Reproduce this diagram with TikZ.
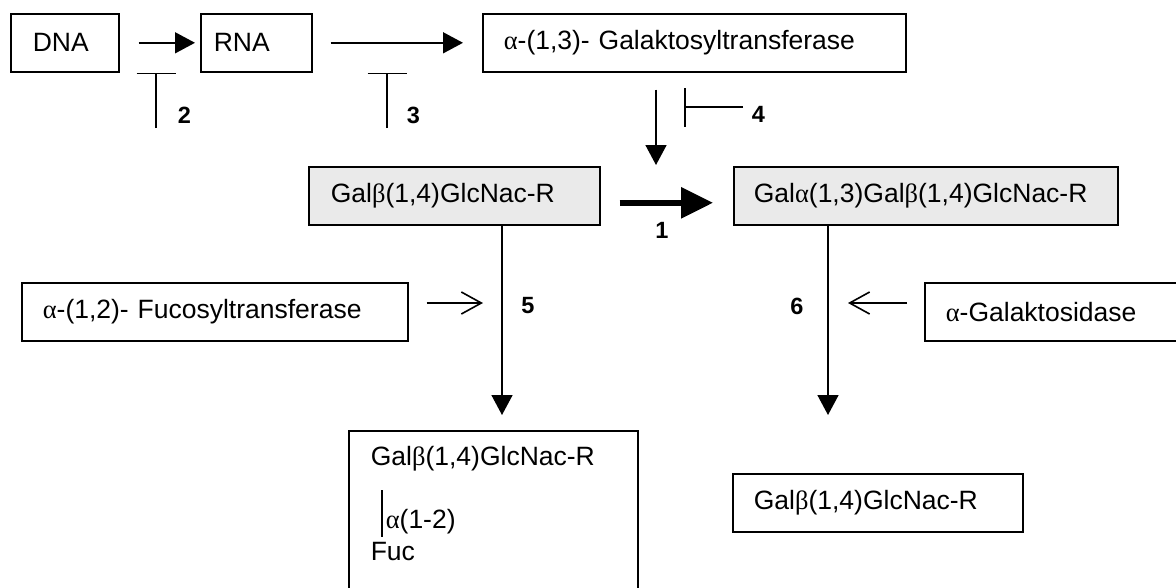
\documentclass[tikz,border=0pt]{standalone}
\usepackage{fontspec}
\setmainfont{Liberation Sans}
\newfontfamily\grk{Liberation Serif}
\usetikzlibrary{arrows.meta}
\newcommand{\alf}{{\grk α}}
\newcommand{\bet}{{\grk β}}
\definecolor{boxgrey}{RGB}{234,234,234}
\tikzset{
	box/.style 2 args={draw,anchor=north west,minimum height=58pt,inner xsep=#1,text width=#2,align=left},
	gbox/.style 2 args={box={#1}{#2},fill=boxgrey},
	num/.style={font=\fontsize{23.5pt}{26pt}\selectfont\bfseries,inner sep=0pt},
	txt/.style={anchor=west,inner sep=0pt},
	pro/.style={-{Triangle[length=20pt,width=21pt]}},
	opn/.style={-{Straight Barb[length=20pt,width=22pt]}},
	blk/.style={-{Bar[width=39pt]}}
}

\begin{document}
\begin{tikzpicture}[x=1pt,y=-1pt,line width=1.6pt,every node/.style={font=\fontsize{26.5pt}{30pt}\selectfont}]
	\useasboundingbox (0,0) rectangle (1176,587);
	\clip (0,0) rectangle (1176,587);

	\node [box={22pt}{64pt}] (dna) at (10,13) {DNA};
	\node [box={13pt}{85pt}] (rna) at (200,13) {RNA};
	\node [box={21pt}{381pt}] (galt) at (482,13) {\alf-(1,3)- Galaktosyltransferase};
	\node [gbox={22pt}{247pt}] (galb) at (308,166) {Gal\bet(1,4)GlcNac-R};
	\node [gbox={20pt}{344pt}] (galab) at (733,166) {Gal\alf(1,3)Gal\bet(1,4)GlcNac-R};
	\node [box={21pt}{344pt}] (fuco) at (21,282) {\alf-(1,2)- Fucosyltransferase};
	\node [box={21pt}{250pt}] (galsid) at (924,282) {\alf-Galaktosidase};
	\node [box={21pt}{248pt}] (galprod) at (732,473) {Gal\bet(1,4)GlcNac-R};
	\node [box={22pt}{245pt},minimum height=200pt] (fucprod) at (348,430) {};
	\node [txt] (fp1) at (370,459) {Gal\bet(1,4)GlcNac-R};
	\node [txt] (fp2) at (385,522) {\alf(1-2)};
	\node [txt] (fp3) at (370,552) {Fuc};
	\draw (382,490) -- (382,537);

	\coordinate (i2) at (156,128);
	\coordinate (i3) at (387,128);
	\coordinate (t4) at (656,165);
	\coordinate (i4) at (743,107);
	\coordinate (i4b) at (684,107);
	\coordinate (t5) at (502,415);
	\coordinate (f5) at (483,303);
	\coordinate (t6) at (828,415);
	\coordinate (f6) at (848,303);

	\draw [pro] ([xshift=19pt]dna.east) -- ([xshift=-5pt]rna.west);
	\draw [pro] ([xshift=18pt]rna.east) -- ([xshift=-19pt]galt.west);
	\draw [blk] (i2) -- (i2 |- dna.south);
	\draw [blk] (i3) -- (i3 |- rna.south);
	\draw [pro] ([yshift=-17pt]galt.south -| t4) -- (t4);
	\draw [blk] (i4) -- (i4b);
	\draw [line width=6pt,-{Triangle[length=32pt,width=30pt]}] ([shift={(19,7)}]galb.east) -- ([shift={(-20,7)}]galab.west);
	\draw [pro] (galb.south -| t5) -- (t5);
	\draw [opn] ([xshift=18pt]fuco.east |- f5) -- (f5);
	\draw [pro] (galab.south -| t6) -- (t6);
	\draw [opn] ([xshift=-17pt]galsid.west |- f6) -- (f6);

	\node [num,anchor=west] (n2) at (177,115) {2};
	\node [num,anchor=west] (n3) at (406,115) {3};
	\node [num,anchor=west] (n4) at (751,114) {4};
	\node [num] (n1) at (662,230) {1};
	\node [num] (n5) at (528,306) {5};
	\node [num] (n6) at (797,306) {6};
\end{tikzpicture}
\end{document}
